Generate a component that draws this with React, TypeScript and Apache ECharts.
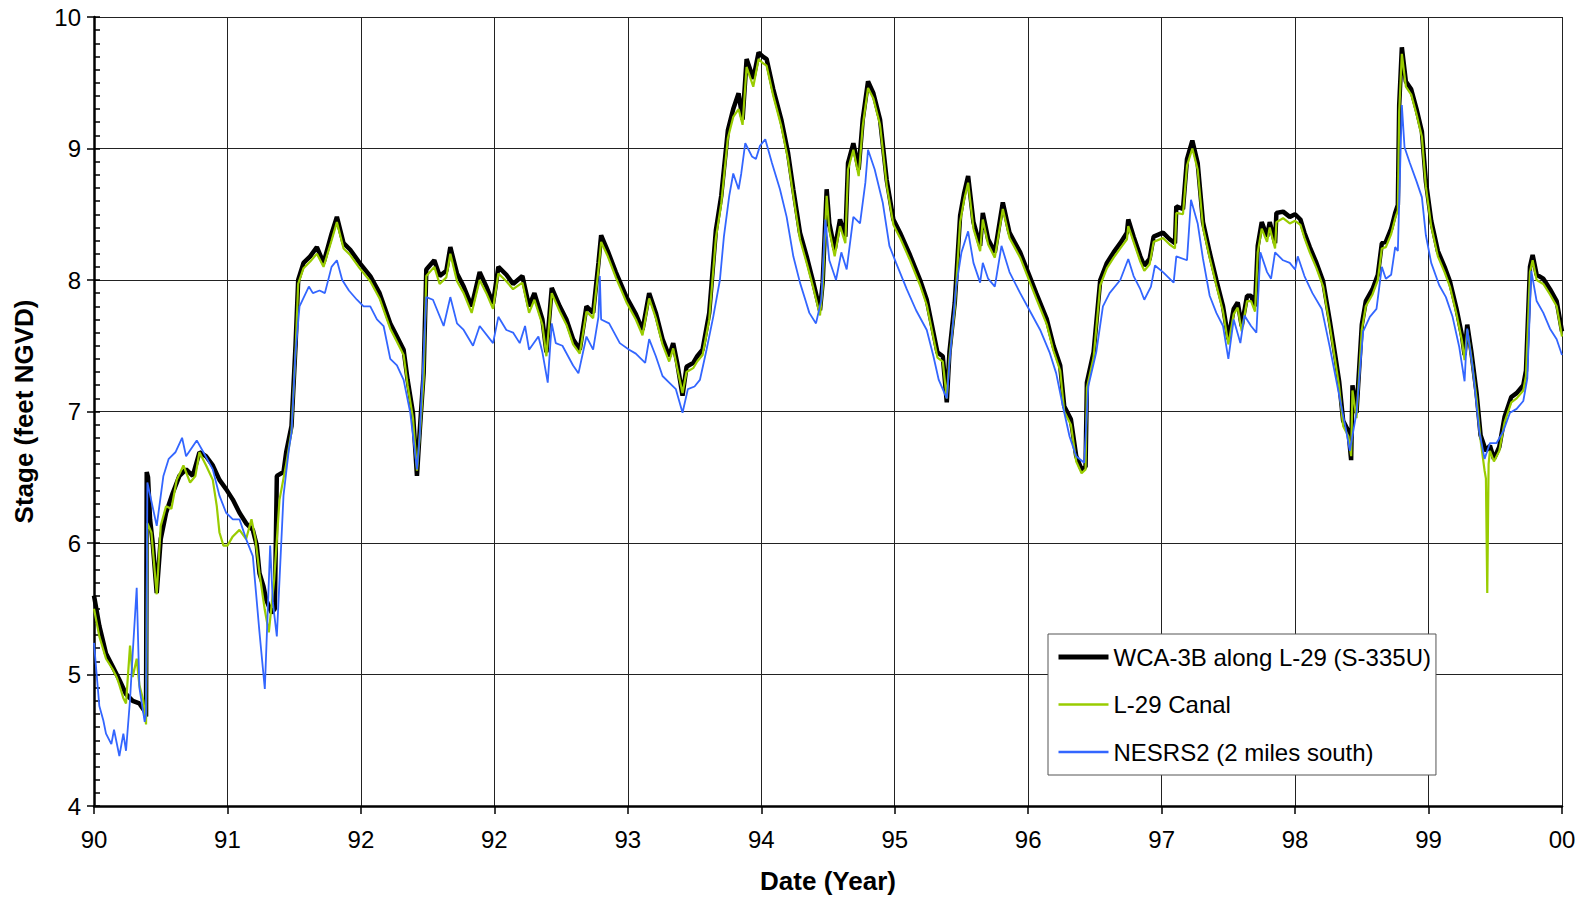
import React, { useEffect, useRef } from "react";
import * as echarts from "echarts";

const tickLabels = ["90", "91", "92", "92", "93", "94", "95", "96", "97", "98", "99", "00"];
const seriesNames = ["WCA-3B along L-29 (S-335U)", "L-29 Canal", "NESRS2 (2 miles south)"];

// [position along date axis (tick units), stage]
const wcaData: number[][] = [
  [0.00, 5.60], [0.04, 5.37], [0.09, 5.16], [0.14, 5.06], [0.19, 4.96], [0.24, 4.85], [0.29, 4.80], [0.34, 4.78],
  [0.38, 4.72], [0.39, 4.68], [0.395, 6.54], [0.405, 6.50], [0.42, 6.18], [0.44, 6.00], [0.47, 5.62], [0.50, 6.03],
  [0.54, 6.23], [0.59, 6.38], [0.64, 6.51], [0.69, 6.56], [0.74, 6.51], [0.79, 6.69], [0.84, 6.66], [0.89, 6.59],
  [0.94, 6.48], [0.99, 6.41], [1.04, 6.33], [1.09, 6.23], [1.14, 6.15], [1.19, 6.10], [1.22, 5.98], [1.24, 5.77],
  [1.27, 5.67], [1.29, 5.57], [1.33, 5.47], [1.355, 5.50], [1.37, 6.51], [1.42, 6.54], [1.44, 6.69], [1.48, 6.89],
  [1.51, 7.50], [1.53, 8.00], [1.57, 8.13], [1.62, 8.18], [1.67, 8.25], [1.72, 8.13], [1.78, 8.35], [1.82, 8.48],
  [1.87, 8.28], [1.92, 8.23], [1.99, 8.13], [2.07, 8.03], [2.14, 7.90], [2.22, 7.67], [2.27, 7.57], [2.32, 7.47],
  [2.35, 7.24], [2.39, 6.99], [2.42, 6.51], [2.44, 6.84], [2.47, 7.29], [2.49, 8.08], [2.55, 8.15], [2.59, 8.03],
  [2.64, 8.07], [2.67, 8.25], [2.72, 8.05], [2.77, 7.95], [2.83, 7.80], [2.89, 8.06], [2.94, 7.95], [2.99, 7.82],
  [3.03, 8.10], [3.09, 8.04], [3.14, 7.97], [3.21, 8.03], [3.26, 7.80], [3.30, 7.90], [3.36, 7.70], [3.39, 7.45],
  [3.43, 7.94], [3.49, 7.80], [3.54, 7.70], [3.59, 7.55], [3.64, 7.47], [3.69, 7.80], [3.74, 7.75], [3.78, 8.13],
  [3.80, 8.34], [3.85, 8.22], [3.91, 8.06], [3.99, 7.87], [4.06, 7.74], [4.11, 7.62], [4.16, 7.90], [4.21, 7.75],
  [4.26, 7.55], [4.31, 7.42], [4.34, 7.52], [4.37, 7.37], [4.41, 7.12], [4.44, 7.34], [4.49, 7.37], [4.52, 7.42],
  [4.56, 7.47], [4.61, 7.75], [4.66, 8.38], [4.70, 8.64], [4.75, 9.14], [4.79, 9.30], [4.83, 9.42], [4.86, 9.22],
  [4.89, 9.68], [4.94, 9.53], [4.98, 9.73], [5.01, 9.70], [5.04, 9.68], [5.09, 9.45], [5.15, 9.22], [5.20, 8.97],
  [5.24, 8.69], [5.29, 8.36], [5.34, 8.18], [5.39, 7.98], [5.44, 7.77], [5.46, 7.98], [5.49, 8.69], [5.51, 8.43],
  [5.55, 8.23], [5.59, 8.46], [5.63, 8.33], [5.65, 8.89], [5.69, 9.04], [5.73, 8.84], [5.76, 9.22], [5.80, 9.51],
  [5.84, 9.42], [5.89, 9.22], [5.94, 8.76], [5.99, 8.46], [6.04, 8.36], [6.11, 8.20], [6.19, 8.00], [6.24, 7.85],
  [6.29, 7.60], [6.32, 7.45], [6.36, 7.42], [6.39, 7.07], [6.41, 7.45], [6.45, 7.83], [6.49, 8.49], [6.52, 8.66],
  [6.55, 8.79], [6.59, 8.44], [6.64, 8.26], [6.66, 8.51], [6.70, 8.31], [6.75, 8.21], [6.81, 8.59], [6.86, 8.36],
  [6.94, 8.21], [7.01, 8.03], [7.06, 7.90], [7.14, 7.70], [7.19, 7.50], [7.24, 7.35], [7.27, 7.04], [7.32, 6.94],
  [7.36, 6.66], [7.40, 6.56], [7.43, 6.58], [7.44, 7.22], [7.49, 7.45], [7.54, 8.00], [7.59, 8.13], [7.64, 8.21],
  [7.69, 8.28], [7.74, 8.36], [7.75, 8.46], [7.79, 8.33], [7.84, 8.18], [7.87, 8.11], [7.91, 8.16], [7.94, 8.33],
  [8.01, 8.36], [8.06, 8.31], [8.10, 8.28], [8.11, 8.56], [8.16, 8.54], [8.19, 8.92], [8.23, 9.06], [8.27, 8.89],
  [8.31, 8.44], [8.36, 8.21], [8.41, 8.00], [8.46, 7.80], [8.50, 7.55], [8.54, 7.78], [8.57, 7.83], [8.60, 7.65],
  [8.64, 7.88], [8.67, 7.88], [8.70, 7.80], [8.72, 8.26], [8.75, 8.44], [8.79, 8.33], [8.81, 8.44], [8.85, 8.28],
  [8.86, 8.51], [8.91, 8.52], [8.96, 8.48], [9.00, 8.50], [9.04, 8.46], [9.07, 8.36], [9.11, 8.25], [9.16, 8.13],
  [9.21, 7.99], [9.26, 7.69], [9.30, 7.43], [9.33, 7.23], [9.36, 6.93], [9.40, 6.85], [9.42, 6.63], [9.43, 7.20],
  [9.46, 6.99], [9.50, 7.66], [9.53, 7.84], [9.58, 7.93], [9.62, 8.04], [9.65, 8.28], [9.68, 8.29], [9.72, 8.39],
  [9.75, 8.51], [9.77, 8.57], [9.78, 9.33], [9.80, 9.77], [9.83, 9.51], [9.87, 9.45], [9.91, 9.30], [9.95, 9.13],
  [9.98, 8.75], [10.02, 8.45], [10.07, 8.22], [10.12, 8.10], [10.16, 7.99], [10.21, 7.78], [10.25, 7.58], [10.27, 7.43],
  [10.29, 7.66], [10.32, 7.46], [10.36, 7.14], [10.39, 6.82], [10.43, 6.70], [10.46, 6.74], [10.49, 6.64], [10.53, 6.73],
  [10.57, 6.96], [10.62, 7.11], [10.66, 7.14], [10.71, 7.20], [10.73, 7.31], [10.76, 8.10], [10.78, 8.19], [10.81, 8.04],
  [10.86, 8.01], [10.91, 7.93], [10.96, 7.84], [11.00, 7.61],
];

const canalData: number[][] = [
  [0.00, 5.50], [0.04, 5.29], [0.09, 5.12], [0.14, 5.04], [0.17, 4.98], [0.19, 4.92], [0.22, 4.82], [0.24, 4.78],
  [0.27, 5.22], [0.29, 4.98], [0.32, 5.12], [0.34, 4.92], [0.37, 4.80], [0.39, 4.62], [0.40, 6.15], [0.43, 6.08],
  [0.47, 5.61], [0.50, 6.13], [0.54, 6.28], [0.58, 6.26], [0.62, 6.48], [0.67, 6.59], [0.72, 6.46], [0.76, 6.51],
  [0.79, 6.69], [0.84, 6.59], [0.89, 6.48], [0.92, 6.28], [0.94, 6.08], [0.97, 5.98], [1.00, 5.98], [1.04, 6.05],
  [1.09, 6.10], [1.14, 6.03], [1.18, 6.18], [1.21, 6.03], [1.24, 5.77], [1.28, 5.49], [1.31, 5.32], [1.35, 5.72],
  [1.39, 6.33], [1.44, 6.60], [1.48, 6.85], [1.51, 7.45], [1.53, 7.97], [1.57, 8.09], [1.62, 8.14], [1.67, 8.20],
  [1.72, 8.10], [1.78, 8.30], [1.82, 8.44], [1.87, 8.24], [1.92, 8.19], [1.99, 8.09], [2.07, 7.99], [2.14, 7.86],
  [2.22, 7.63], [2.27, 7.53], [2.32, 7.43], [2.35, 7.20], [2.39, 6.95], [2.42, 6.55], [2.44, 6.80], [2.47, 7.25],
  [2.49, 8.03], [2.55, 8.10], [2.59, 7.97], [2.64, 8.02], [2.67, 8.20], [2.72, 7.99], [2.77, 7.90], [2.83, 7.75],
  [2.89, 8.00], [2.94, 7.90], [2.99, 7.78], [3.03, 8.05], [3.09, 7.99], [3.14, 7.93], [3.21, 7.98], [3.26, 7.75],
  [3.30, 7.85], [3.36, 7.66], [3.39, 7.42], [3.43, 7.90], [3.49, 7.76], [3.54, 7.66], [3.59, 7.51], [3.64, 7.44],
  [3.69, 7.76], [3.74, 7.71], [3.78, 8.08], [3.80, 8.29], [3.85, 8.18], [3.91, 8.02], [3.99, 7.83], [4.06, 7.70],
  [4.11, 7.58], [4.16, 7.86], [4.21, 7.71], [4.26, 7.51], [4.31, 7.38], [4.34, 7.48], [4.37, 7.33], [4.41, 7.14],
  [4.44, 7.30], [4.49, 7.33], [4.52, 7.38], [4.56, 7.43], [4.61, 7.70], [4.66, 8.32], [4.70, 8.58], [4.75, 9.08],
  [4.79, 9.24], [4.83, 9.30], [4.86, 9.18], [4.89, 9.62], [4.94, 9.47], [4.98, 9.68], [5.01, 9.65], [5.04, 9.63],
  [5.09, 9.40], [5.15, 9.17], [5.20, 8.92], [5.24, 8.64], [5.29, 8.31], [5.34, 8.13], [5.39, 7.94], [5.44, 7.73],
  [5.46, 7.94], [5.49, 8.64], [5.51, 8.38], [5.55, 8.18], [5.59, 8.41], [5.63, 8.28], [5.65, 8.84], [5.69, 8.99],
  [5.73, 8.79], [5.76, 9.17], [5.80, 9.46], [5.84, 9.38], [5.89, 9.18], [5.94, 8.72], [5.99, 8.42], [6.04, 8.32],
  [6.11, 8.16], [6.19, 7.96], [6.24, 7.81], [6.29, 7.56], [6.32, 7.41], [6.36, 7.38], [6.39, 7.10], [6.41, 7.41],
  [6.45, 7.79], [6.49, 8.44], [6.52, 8.61], [6.55, 8.74], [6.59, 8.39], [6.64, 8.22], [6.66, 8.46], [6.70, 8.27],
  [6.75, 8.17], [6.81, 8.54], [6.86, 8.32], [6.94, 8.17], [7.01, 7.99], [7.06, 7.86], [7.14, 7.66], [7.19, 7.46],
  [7.24, 7.31], [7.27, 7.00], [7.32, 6.90], [7.36, 6.62], [7.40, 6.53], [7.43, 6.56], [7.44, 7.18], [7.49, 7.41],
  [7.54, 7.96], [7.59, 8.09], [7.64, 8.17], [7.69, 8.24], [7.74, 8.31], [7.75, 8.41], [7.79, 8.29], [7.84, 8.14],
  [7.87, 8.07], [7.91, 8.12], [7.94, 8.29], [8.01, 8.32], [8.06, 8.27], [8.10, 8.24], [8.11, 8.51], [8.16, 8.50],
  [8.19, 8.87], [8.23, 9.00], [8.27, 8.84], [8.31, 8.40], [8.36, 8.17], [8.41, 7.96], [8.46, 7.76], [8.50, 7.51],
  [8.54, 7.74], [8.57, 7.79], [8.60, 7.61], [8.64, 7.84], [8.67, 7.84], [8.70, 7.76], [8.72, 8.21], [8.75, 8.39],
  [8.79, 8.29], [8.81, 8.40], [8.85, 8.24], [8.86, 8.44], [8.91, 8.47], [8.96, 8.43], [9.00, 8.45], [9.04, 8.42],
  [9.07, 8.32], [9.11, 8.21], [9.16, 8.09], [9.21, 7.95], [9.26, 7.65], [9.30, 7.39], [9.33, 7.19], [9.36, 6.89],
  [9.40, 6.81], [9.42, 6.66], [9.43, 7.16], [9.46, 6.95], [9.50, 7.62], [9.53, 7.80], [9.58, 7.89], [9.62, 8.00],
  [9.65, 8.24], [9.68, 8.25], [9.72, 8.35], [9.75, 8.47], [9.77, 8.53], [9.78, 9.28], [9.80, 9.72], [9.83, 9.47],
  [9.87, 9.41], [9.91, 9.26], [9.95, 9.09], [9.98, 8.71], [10.02, 8.41], [10.07, 8.18], [10.12, 8.06], [10.16, 7.95],
  [10.21, 7.74], [10.25, 7.54], [10.27, 7.39], [10.29, 7.62], [10.32, 7.42], [10.36, 7.10], [10.39, 6.78], [10.42, 6.55],
  [10.43, 6.49], [10.44, 5.62], [10.45, 6.60], [10.46, 6.70], [10.49, 6.62], [10.53, 6.70], [10.57, 6.92], [10.62, 7.07],
  [10.66, 7.10], [10.71, 7.16], [10.73, 7.27], [10.76, 8.06], [10.78, 8.15], [10.81, 8.00], [10.86, 7.97], [10.91, 7.89],
  [10.96, 7.80], [11.00, 7.57],
];

const nesrsData: number[][] = [
  [0.00, 5.24], [0.02, 5.00], [0.04, 4.76], [0.07, 4.65], [0.09, 4.55], [0.13, 4.47], [0.15, 4.58], [0.19, 4.38],
  [0.22, 4.55], [0.24, 4.42], [0.27, 4.81], [0.29, 5.16], [0.32, 5.66], [0.34, 4.90], [0.38, 4.64], [0.39, 4.70],
  [0.40, 6.46], [0.47, 6.13], [0.52, 6.51], [0.56, 6.64], [0.61, 6.69], [0.66, 6.80], [0.69, 6.66], [0.77, 6.78],
  [0.82, 6.69], [0.89, 6.56], [0.94, 6.36], [0.99, 6.23], [1.04, 6.18], [1.09, 6.18], [1.14, 6.03], [1.19, 5.90],
  [1.24, 5.32], [1.28, 4.89], [1.32, 5.98], [1.34, 5.55], [1.37, 5.29], [1.42, 6.36], [1.46, 6.71], [1.48, 6.84],
  [1.51, 7.45], [1.54, 7.80], [1.61, 7.95], [1.64, 7.90], [1.69, 7.92], [1.73, 7.90], [1.78, 8.10], [1.82, 8.15],
  [1.86, 8.00], [1.91, 7.92], [1.97, 7.85], [2.02, 7.80], [2.07, 7.80], [2.12, 7.70], [2.17, 7.65], [2.22, 7.40],
  [2.27, 7.35], [2.32, 7.24], [2.37, 6.99], [2.42, 6.56], [2.44, 6.80], [2.49, 7.87], [2.54, 7.85], [2.62, 7.65],
  [2.67, 7.87], [2.72, 7.67], [2.77, 7.62], [2.84, 7.50], [2.89, 7.65], [2.99, 7.52], [3.03, 7.72], [3.09, 7.62],
  [3.14, 7.60], [3.19, 7.52], [3.23, 7.65], [3.26, 7.47], [3.33, 7.57], [3.36, 7.45], [3.40, 7.22], [3.43, 7.67],
  [3.46, 7.52], [3.51, 7.50], [3.59, 7.35], [3.63, 7.29], [3.69, 7.57], [3.74, 7.47], [3.78, 7.72], [3.79, 8.03],
  [3.80, 7.70], [3.86, 7.67], [3.94, 7.52], [4.01, 7.47], [4.06, 7.44], [4.13, 7.37], [4.16, 7.55], [4.21, 7.42],
  [4.26, 7.27], [4.31, 7.22], [4.36, 7.17], [4.41, 6.99], [4.45, 7.17], [4.50, 7.19], [4.54, 7.24], [4.59, 7.47],
  [4.64, 7.72], [4.69, 8.00], [4.72, 8.33], [4.76, 8.64], [4.79, 8.81], [4.83, 8.69], [4.85, 8.81], [4.88, 9.04],
  [4.93, 8.94], [4.96, 8.92], [4.99, 9.02], [5.03, 9.07], [5.08, 8.89], [5.14, 8.69], [5.19, 8.48], [5.24, 8.18],
  [5.29, 7.98], [5.33, 7.85], [5.36, 7.75], [5.41, 7.67], [5.45, 7.85], [5.48, 8.46], [5.51, 8.15], [5.56, 8.00],
  [5.60, 8.21], [5.64, 8.08], [5.69, 8.48], [5.74, 8.43], [5.78, 8.74], [5.80, 8.99], [5.85, 8.84], [5.91, 8.59],
  [5.96, 8.26], [6.01, 8.13], [6.09, 7.93], [6.16, 7.77], [6.24, 7.62], [6.29, 7.42], [6.33, 7.24], [6.39, 7.10],
  [6.41, 7.37], [6.46, 7.95], [6.50, 8.21], [6.55, 8.37], [6.59, 8.13], [6.64, 7.98], [6.66, 8.13], [6.70, 8.01],
  [6.75, 7.95], [6.80, 8.26], [6.86, 8.06], [6.94, 7.90], [7.01, 7.77], [7.09, 7.62], [7.16, 7.45], [7.21, 7.29],
  [7.26, 7.04], [7.31, 6.81], [7.36, 6.66], [7.42, 6.61], [7.45, 7.19], [7.51, 7.45], [7.56, 7.80], [7.61, 7.90],
  [7.69, 8.00], [7.75, 8.16], [7.79, 8.03], [7.84, 7.93], [7.87, 7.85], [7.92, 7.95], [7.95, 8.11], [8.01, 8.06],
  [8.09, 7.98], [8.11, 8.18], [8.19, 8.15], [8.22, 8.61], [8.27, 8.43], [8.31, 8.16], [8.36, 7.88], [8.41, 7.75],
  [8.46, 7.65], [8.50, 7.40], [8.54, 7.70], [8.59, 7.52], [8.62, 7.73], [8.67, 7.65], [8.71, 7.60], [8.74, 8.21],
  [8.79, 8.06], [8.82, 8.01], [8.85, 8.21], [8.91, 8.15], [8.96, 8.13], [9.00, 8.08], [9.02, 8.18], [9.07, 8.03],
  [9.13, 7.90], [9.20, 7.78], [9.26, 7.49], [9.31, 7.23], [9.35, 7.02], [9.38, 6.87], [9.41, 6.70], [9.46, 6.99],
  [9.51, 7.61], [9.56, 7.72], [9.61, 7.78], [9.65, 8.10], [9.68, 8.01], [9.72, 8.04], [9.75, 8.25], [9.77, 8.22],
  [9.80, 9.33], [9.82, 9.01], [9.86, 8.89], [9.91, 8.75], [9.95, 8.63], [9.98, 8.34], [10.02, 8.13], [10.08, 7.96],
  [10.13, 7.87], [10.18, 7.72], [10.23, 7.49], [10.27, 7.23], [10.29, 7.63], [10.33, 7.34], [10.38, 6.85], [10.42, 6.64],
  [10.46, 6.76], [10.51, 6.76], [10.56, 6.85], [10.61, 6.99], [10.66, 7.02], [10.71, 7.08], [10.74, 7.25], [10.77, 8.07],
  [10.81, 7.84], [10.86, 7.75], [10.91, 7.63], [10.96, 7.55], [11.00, 7.43],
];

const FONT = "'Liberation Sans', Arial, sans-serif";

export default function App() {
  const ref = useRef<HTMLDivElement>(null);
  useEffect(() => {
    if (!ref.current) return;
    const chart = echarts.init(ref.current, undefined, { renderer: "svg" });
    chart.setOption({
      animation: false,
      backgroundColor: "#ffffff",
      textStyle: { fontFamily: FONT, color: "#000" },
      grid: { left: 94, right: 25, top: 17, bottom: 92, containLabel: false },
      legend: {
        orient: "vertical",
        left: 1048,
        top: 634,
        padding: [11, 5, 11, 8],
        itemWidth: 50,
        itemHeight: 14,
        itemGap: 23.5,
        itemTextGap: 5,
        borderColor: "#555",
        borderWidth: 1,
        backgroundColor: "#fff",
        itemStyle: { opacity: 0 },
        lineStyle: { width: "inherit" },
        textStyle: { fontFamily: FONT, fontSize: 24, color: "#000" },
        data: [
          { name: seriesNames[0], lineStyle: { width: 5 } },
          { name: seriesNames[1], lineStyle: { width: 2.5 } },
          { name: seriesNames[2], lineStyle: { width: 2.5 } },
        ],
      },
      xAxis: {
        type: "value",
        min: 0,
        max: 11,
        interval: 1,
        name: "Date (Year)",
        nameLocation: "middle",
        nameGap: 62,
        nameTextStyle: { fontFamily: FONT, fontSize: 26, fontWeight: "bold", color: "#000" },
        axisLine: { show: true, onZero: false, lineStyle: { color: "#000", width: 2.5 } },
        axisTick: { show: true, length: 8, lineStyle: { color: "#000", width: 1.5 } },
        axisLabel: {
          fontFamily: FONT,
          fontSize: 24,
          color: "#000",
          margin: 21,
          formatter: (v: number) => tickLabels[Math.round(v)] ?? "",
        },
        splitLine: { show: true, lineStyle: { color: "#222", width: 1 } },
      },
      yAxis: [
        {
          type: "value",
          min: 4,
          max: 10,
          interval: 1,
          position: "left",
          name: "Stage (feet NGVD)",
          nameLocation: "middle",
          nameGap: 57,
          nameTextStyle: { fontFamily: FONT, fontSize: 26, fontWeight: "bold", color: "#000" },
          axisLine: { show: true, lineStyle: { color: "#000", width: 2.5 } },
          axisTick: { show: true, length: 7, lineStyle: { color: "#000", width: 1.5 } },
          axisLabel: { fontFamily: FONT, fontSize: 24, color: "#000", margin: 13 },
          splitLine: { show: true, lineStyle: { color: "#222", width: 1 } },
        },
        {
          type: "value",
          min: 4,
          max: 10,
          interval: 1,
          position: "left",
          offset: 0,
          axisLine: { show: false },
          axisTick: { show: true, inside: true, length: 6, lineStyle: { color: "#000", width: 1.5 } },
          minorTick: { show: true, splitNumber: 10, length: 6, lineStyle: { color: "#000", width: 1.5 } },
          axisLabel: { show: false },
          splitLine: { show: false },
        },
      ],
      series: [
        {
          name: seriesNames[0],
          type: "line",
          data: wcaData,
          showSymbol: false,
          symbol: "none",
          lineStyle: { color: "#000000", width: 4.5 },
          itemStyle: { color: "#000000" },
          z: 2,
        },
        {
          name: seriesNames[1],
          type: "line",
          data: canalData,
          showSymbol: false,
          symbol: "none",
          lineStyle: { color: "#99cc00", width: 2.2 },
          itemStyle: { color: "#99cc00" },
          z: 3,
        },
        {
          name: seriesNames[2],
          type: "line",
          data: nesrsData,
          showSymbol: false,
          symbol: "none",
          lineStyle: { color: "#3366ff", width: 1.8 },
          itemStyle: { color: "#3366ff" },
          z: 4,
        },
      ],
    });
    return () => chart.dispose();
  }, []);
  return (
    <div
      ref={ref}
      style={{ position: "fixed", left: 0, top: 0, width: 1587, height: 899, background: "#fff" }}
    />
  );
}
